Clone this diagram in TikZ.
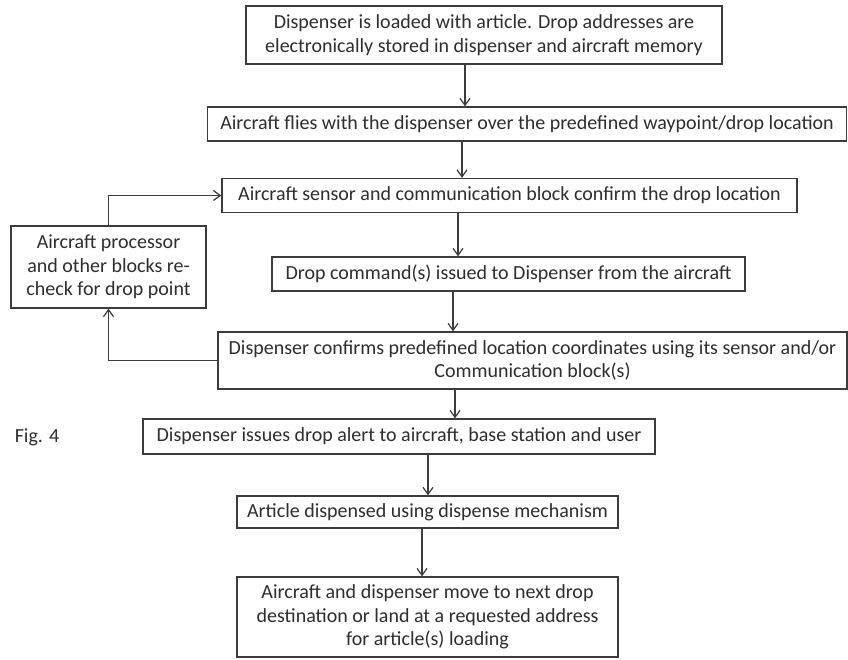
\documentclass[tikz,border=0pt]{standalone}
\usepackage{fontspec}
\setmainfont{Carlito}
\usetikzlibrary{arrows.meta,calc}
\definecolor{ink}{HTML}{2E2E2E}
\definecolor{edge}{HTML}{3C3C3C}
\begin{document}
\begin{tikzpicture}[x=1pt,y=-1pt,
  box/.style={draw=edge,line width=1.3pt,inner sep=0pt,align=center,text=ink,
    font=\fontsize{20}{23.5}\selectfont},
  arr/.style={draw=edge,line width=1.2pt,-{Straight Barb[length=7pt,width=10pt]}},
  lbl/.style={text=ink,font=\fontsize{20}{23.5}\selectfont}]
\useasboundingbox (0,0) rectangle (848,660);
\fill[white] (0,0) rectangle (848,660);

\node[box,minimum width=476pt,minimum height=58pt] (b1) at (484,35)
  {Dispenser is loaded with article. Drop addresses are\\electronically stored in dispenser and aircraft memory};
\node[box,minimum width=639pt,minimum height=34pt] (b2) at (527,124)
  {Aircraft flies with the dispenser over the predefined waypoint/drop location};
\node[box,minimum width=575pt,minimum height=34pt] (b3) at (509.5,195.5)
  {Aircraft sensor and communication block confirm the drop location};
\node[box,minimum width=195pt,minimum height=82pt] (lb) at (108.5,267)
  {Aircraft processor\\and other blocks re-\\check for drop point};
\node[box,minimum width=473pt,minimum height=34pt] (b4) at (508.5,274)
  {Drop command(s) issued to Dispenser from the aircraft};
\node[box,minimum width=629pt,minimum height=57pt] (b5) at (532.5,360.5)
  {Dispenser confirms predefined location coordinates using its sensor and/or\\Communication block(s)};
\node[box,minimum width=512pt,minimum height=35pt] (b6) at (399,436.5)
  {Dispenser issues drop alert to aircraft, base station and user};
\node[box,minimum width=381pt,minimum height=32pt] (b7) at (427.5,512)
  {Article dispensed using dispense mechanism};
\node[box,minimum width=381pt,minimum height=80pt] (b8) at (427.5,617)
  {Aircraft and dispenser move to next drop\\destination or land at a requested address\\for article(s) loading};
\node[lbl] (fig) at (37,437) {Fig. 4};

\coordinate (x1) at (465,0);
\coordinate (x2) at (462,0);
\coordinate (x3) at (458,0);
\coordinate (x4) at (453,0);
\coordinate (x5) at (455,0);
\coordinate (x6) at (428,0);
\coordinate (x7) at (422,0);

\draw[arr] (b1.south -| x1) -- (b2.north -| x1);
\draw[arr] (b2.south -| x2) -- (b3.north -| x2);
\draw[arr] (b3.south -| x3) -- (b4.north -| x3);
\draw[arr] (b4.south -| x4) -- (b5.north -| x4);
\draw[arr] (b5.south -| x5) -- (b6.north -| x5);
\draw[arr] (b6.south -| x6) -- (b7.north -| x6);
\draw[arr] (b7.south -| x7) -- (b8.north -| x7);

\draw[arr] (b5.west) -| (lb.south);
\draw[arr] (lb.north) |- (b3.west);
\end{tikzpicture}
\end{document}
